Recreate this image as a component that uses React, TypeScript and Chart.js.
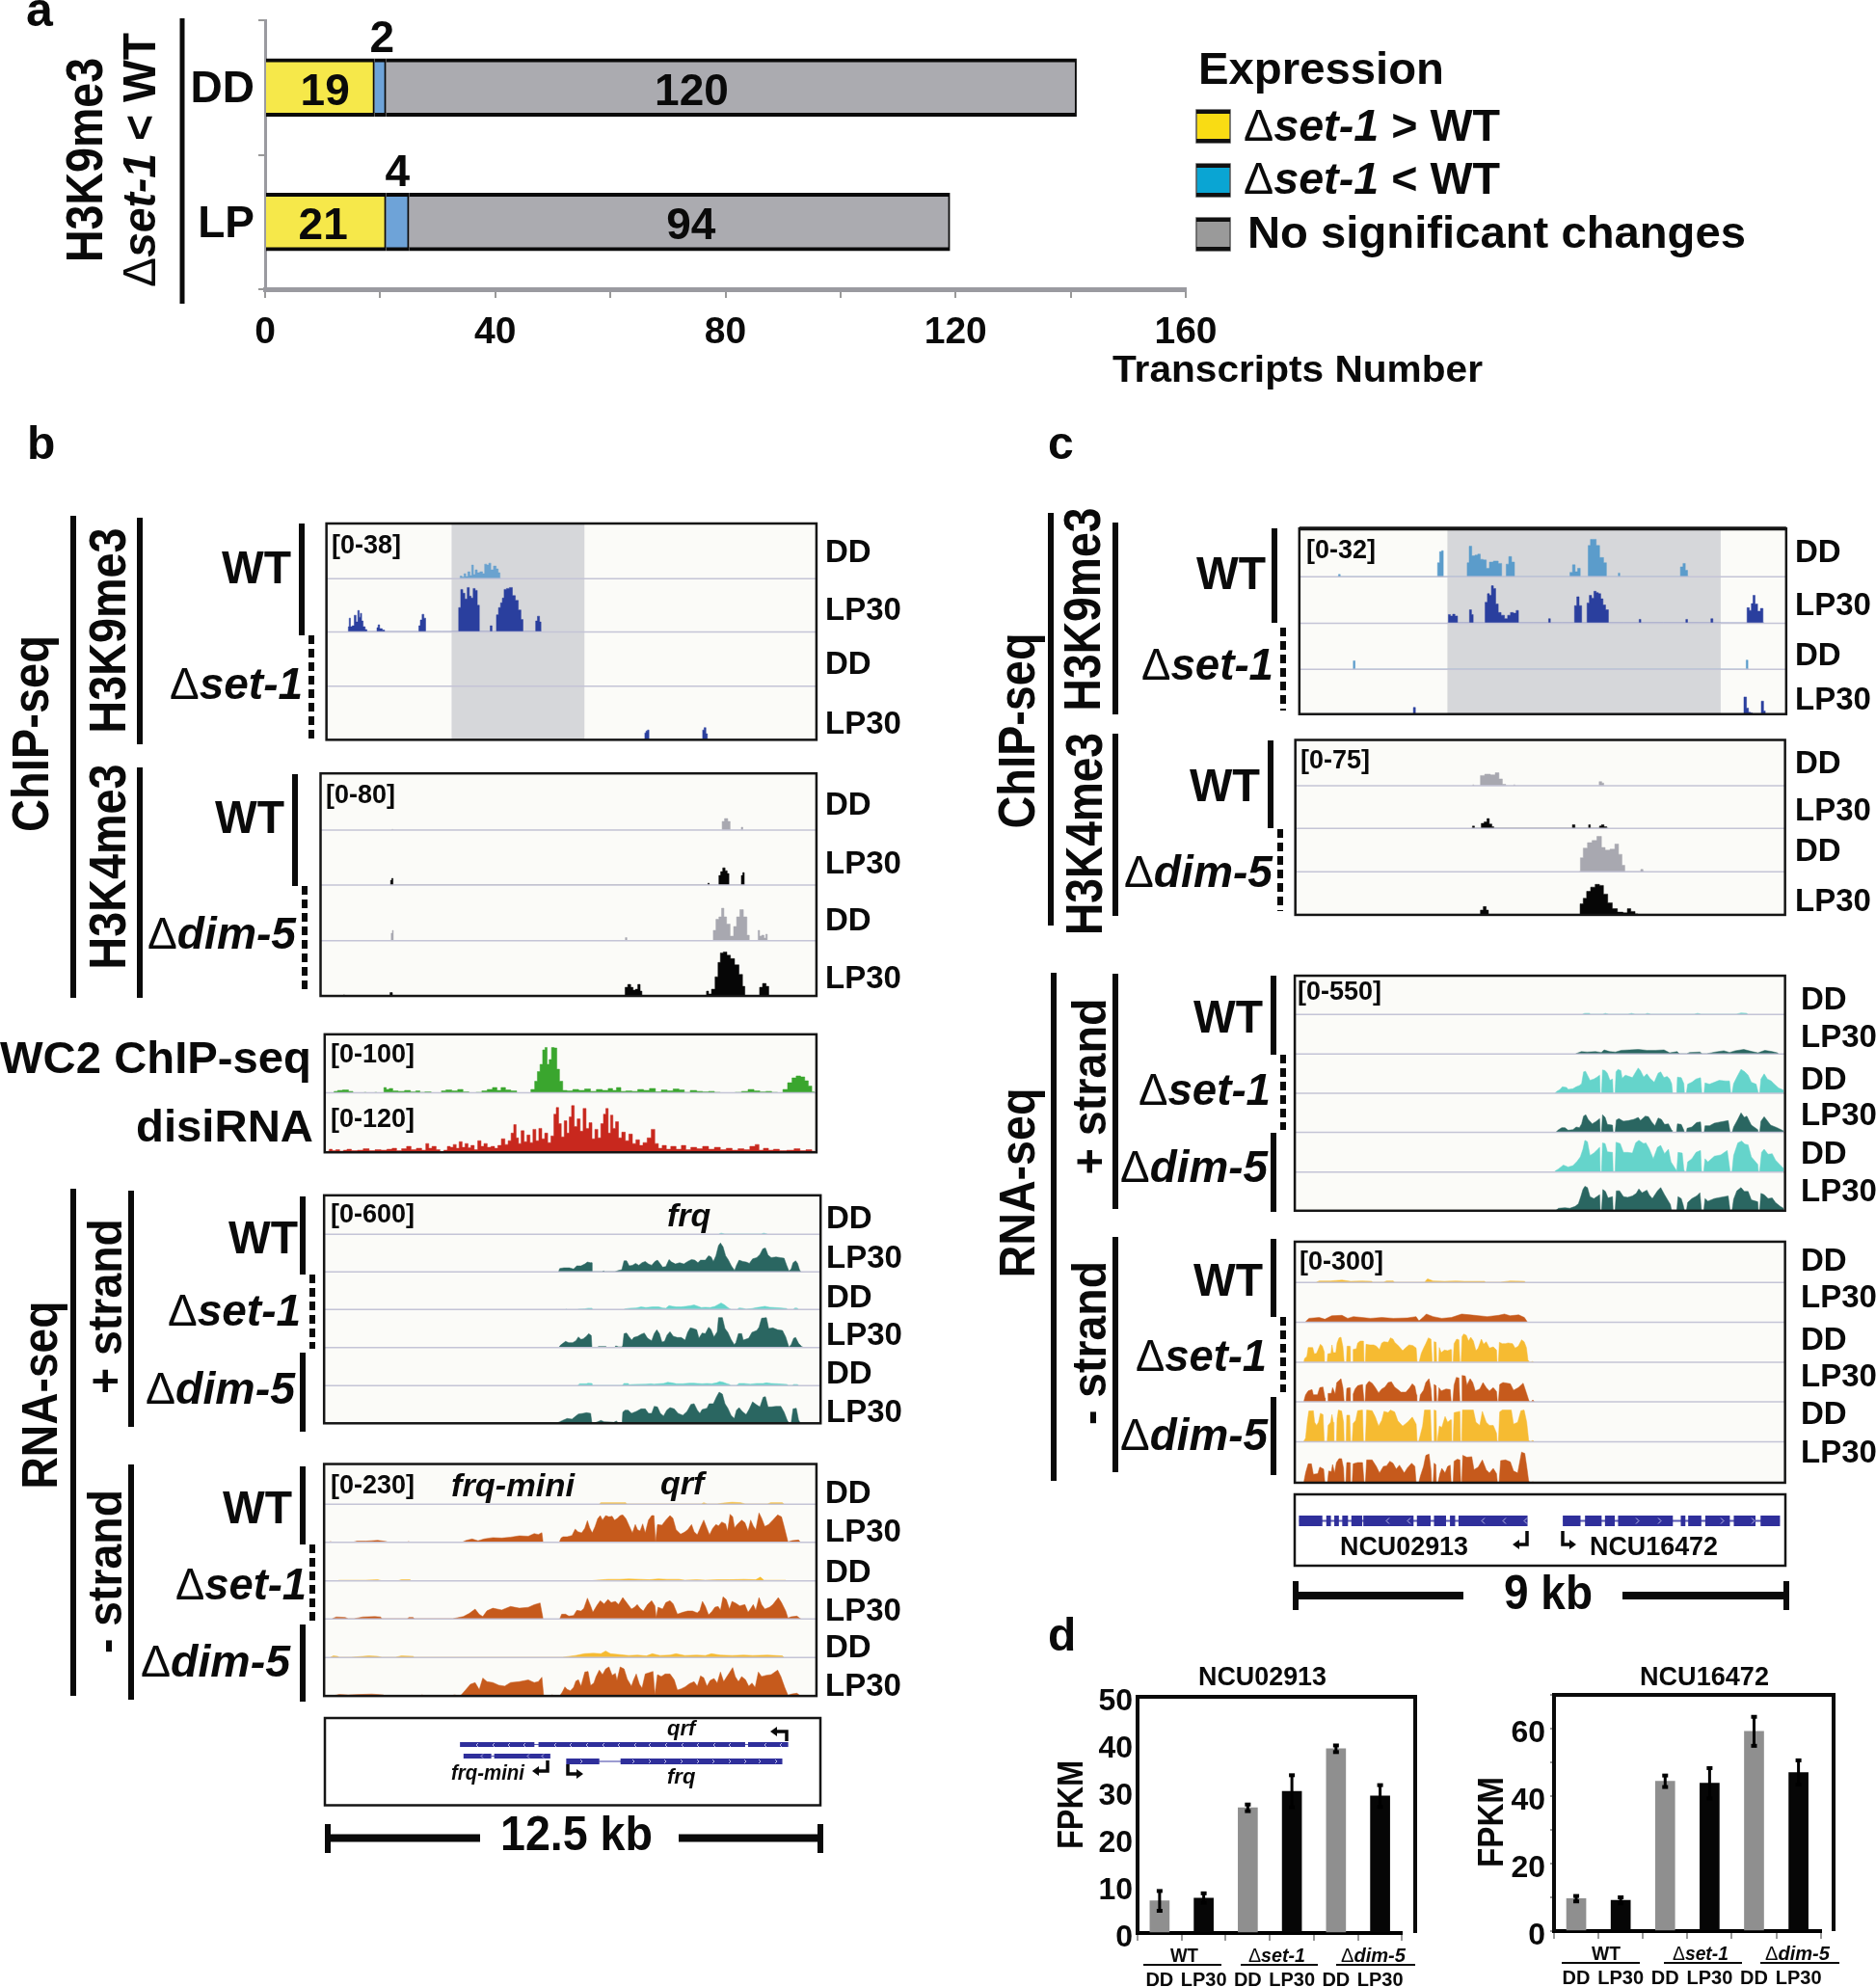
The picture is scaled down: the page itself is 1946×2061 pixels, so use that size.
import React, { useEffect, useRef } from 'react';
import { Chart, registerables } from 'chart.js';

Chart.register(...registerables);

const FONT = '"Liberation Sans", Arial, sans-serif';

// ---------- panel a values ----------
const aCategories = ['DD', 'LP'];
const aHigher = [19, 21];
const aLower = [2, 4];
const aUnchanged = [120, 94];

// ---------- panel d values ----------
const dLabels = ['DD', 'LP30', 'DD', 'LP30', 'DD', 'LP30'];
const ncu02913Values = [6.8, 7.4, 26.5, 30, 39, 29];
const ncu02913Errors = [2.1, 1, 0.7, 3.4, 0.7, 2.3];
const ncu16472Values = [9.6, 9.1, 44.4, 43.8, 59.2, 47];
const ncu16472Errors = [0.8, 0.9, 1.7, 4.5, 4.3, 3.6];

// ---------- coverage profiles, position / height pairs ----------
const bK9WtDd = [778,0,780,5,784,3,787,10,790,4,794,14,797,6,800,28,803,8,806,18,810,12,815,14,819,10,822,30,826,28,829,32,833,18,838,26,842,20,845,12,848,0];
const bK9WtLp = [589,0,590,10,592,28,594,10,598,12,601,34,604,20,607,44,609,30,611,38,613,22,616,10,620,4,622,0,637,0,639,8,641,14,644,6,650,3,652,0,708,0,710,12,713,24,716,36,719,28,722,0,775,0,778,50,782,88,785,80,789,68,793,92,796,74,799,70,803,90,806,86,810,55,813,0,829,0,831,12,835,0,839,0,842,35,846,50,849,60,852,70,855,88,860,90,865,92,870,75,875,65,880,45,884,25,887,0,906,0,908,22,912,32,915,20,917,0];
const bK9SetDd = [553,0,1383,0];
const bK9SetLp = [1091,0,1093,14,1095,18,1098,20,1100,0,1189,0,1191,20,1194,25,1197,12,1199,0];

const bK4WtDd = [663,0,664,2,665,0,1222,0,1224,18,1230,24,1235,18,1238,0,1254,0,1257,6,1259,0];
const bK4WtLp = [660,0,662,10,664,14,666,0,1198,0,1200,4,1202,0,1216,0,1219,20,1222,28,1226,36,1230,30,1233,24,1236,0,1254,0,1257,20,1259,26,1262,0];
const bK4DimDd = [661,0,663,16,665,22,666,0,1058,0,1060,7,1063,0,1206,0,1210,22,1215,45,1220,50,1224,68,1228,50,1233,35,1240,10,1245,30,1250,50,1256,65,1262,50,1268,12,1270,0,1283,0,1285,22,1288,10,1292,12,1296,6,1298,14,1301,0];
const bK4DimLp = [580,0,582,2,584,0,658,0,662,7,666,0,1057,0,1060,18,1066,24,1070,18,1074,12,1078,14,1082,24,1086,10,1088,0,1195,0,1198,10,1202,4,1208,14,1214,40,1218,70,1222,90,1228,92,1234,85,1240,78,1248,65,1255,45,1260,20,1263,0,1285,0,1288,18,1295,26,1300,20,1304,0];

const bWc2 = [563,0,568,4,575,6,585,7,595,4,600,0,615,0,618,2,622,0,633,0,636,2,640,0,648,0,652,12,656,8,662,10,668,5,680,4,690,6,700,3,708,5,714,2,725,3,735,0,745,0,750,5,760,7,770,5,780,8,788,3,800,0,812,2,820,5,830,8,838,12,845,6,852,12,860,7,870,5,880,0,895,0,903,8,908,25,912,45,917,60,921,90,925,95,928,60,932,70,936,95,941,94,945,50,950,25,956,6,965,5,975,8,985,6,995,9,1005,4,1015,8,1025,6,1035,10,1040,6,1048,12,1055,4,1065,5,1075,4,1085,8,1095,6,1105,10,1115,3,1125,7,1135,5,1145,9,1155,7,1163,2,1175,6,1185,4,1195,3,1205,4,1215,2,1225,1,1240,1,1250,2,1262,4,1272,8,1282,5,1292,3,1302,4,1312,2,1322,0,1330,8,1338,22,1345,32,1352,36,1360,34,1366,26,1372,15,1378,3,1380,0];
const bDisi = [555,2,560,6,565,3,572,5,578,2,585,4,590,6,600,3,610,4,620,7,630,3,640,5,650,4,660,6,668,8,675,3,685,7,692,12,700,5,710,8,718,4,724,18,728,8,735,12,742,5,748,0,755,4,760,12,765,10,770,16,775,8,780,22,785,10,790,18,795,9,800,14,806,5,812,24,817,12,822,18,828,10,835,12,840,8,846,14,852,28,858,16,863,24,868,40,872,58,876,30,880,18,885,45,890,22,895,36,900,20,905,48,910,24,915,50,920,28,925,40,930,20,936,34,940,80,944,94,948,60,953,32,958,66,962,40,966,74,970,98,975,54,980,70,985,44,990,92,995,50,1000,62,1005,28,1010,48,1015,30,1020,60,1024,80,1028,92,1032,40,1036,78,1040,50,1045,64,1050,30,1056,42,1062,24,1068,38,1074,18,1080,26,1086,14,1092,20,1100,30,1106,48,1112,18,1118,8,1125,14,1132,6,1140,12,1150,6,1158,14,1165,5,1175,10,1185,7,1195,12,1205,6,1215,10,1225,5,1235,8,1245,4,1255,7,1265,5,1275,12,1283,16,1288,4,1298,8,1305,4,1315,6,1325,3,1340,4,1350,7,1360,3,1370,5,1380,2];

const bPlusWtDd = [1218,0,1222,2,1228,0,1290,0,1294,2,1300,0];
const bPlusWtLp = [28,0,32,10,45,12,62,12,75,8,85,18,98,18,110,24,118,30,128,28,132,28,132,0,165,0,168,3,172,0,204,0,215,4,225,6,232,34,240,34,248,18,258,20,268,26,278,20,288,28,298,32,308,24,318,20,328,32,336,36,345,24,352,14,362,16,372,38,380,30,392,24,405,28,418,24,430,32,442,38,452,36,462,28,470,36,485,36,495,50,503,46,510,32,518,50,526,82,532,90,540,78,548,50,556,38,566,18,576,4,582,20,590,36,602,32,612,30,622,26,632,40,645,44,655,54,664,72,672,74,680,52,690,44,705,46,718,44,730,42,738,20,745,2,752,8,758,28,766,34,772,26,778,6,782,0];
const bPlusSetDd = [48,0,52,4,56,0,85,0,90,3,110,4,120,6,132,6,132,0,228,0,235,4,250,6,270,7,285,10,300,8,320,10,340,10,352,7,362,6,372,14,382,12,395,10,410,10,425,12,440,14,450,16,462,12,472,8,485,9,500,8,515,12,526,18,534,22,545,16,555,8,565,2,575,0,582,0,590,7,600,6,612,3,630,5,645,8,660,10,670,12,685,9,700,8,720,7,738,5,742,0,756,0,764,7,772,6,775,0];
const bPlusSetLp = [28,0,34,8,42,14,50,20,60,16,72,16,82,22,90,34,98,26,105,28,115,36,122,44,130,38,132,0,150,0,152,4,176,4,178,0,203,0,206,6,215,3,226,3,228,8,232,44,240,46,248,34,256,24,262,32,275,36,285,42,295,46,305,30,318,22,326,44,334,56,342,44,350,18,358,20,366,40,375,50,385,36,398,32,410,32,422,24,430,48,438,62,448,60,458,56,465,30,475,46,485,44,495,64,502,58,512,34,522,50,526,94,538,94,546,60,555,48,565,26,575,10,580,16,588,44,598,44,603,24,620,30,630,48,645,54,652,64,660,92,675,94,682,60,695,62,710,56,725,54,735,34,745,2,752,10,760,30,766,32,775,14,785,4,793,0];
const bPlusDimDd = [88,0,94,5,115,5,120,7,132,6,132,0,226,0,232,6,245,6,248,2,260,3,300,4,315,5,325,4,340,5,355,6,368,10,380,8,395,5,415,5,435,7,450,7,460,6,475,5,490,6,505,5,520,8,530,12,540,10,550,6,560,3,564,0,582,0,590,6,605,6,625,4,645,6,665,6,675,8,690,6,710,5,740,3,742,0,756,0,760,3,772,3,775,0];
const bPlusDimLp = [24,0,32,4,45,10,55,14,70,12,80,20,90,28,105,30,115,32,128,30,132,0,140,0,150,4,160,8,170,4,190,3,200,2,208,6,215,0,226,0,228,34,235,40,245,40,255,30,270,36,285,44,298,44,308,30,318,30,326,52,336,50,345,30,355,22,365,40,375,48,388,44,400,30,415,24,428,36,440,58,450,60,460,40,468,30,475,42,490,46,497,60,510,60,520,82,528,96,538,90,546,60,555,46,565,24,575,14,582,40,590,48,600,36,612,26,622,44,632,66,645,56,655,50,665,80,672,82,680,50,690,50,705,52,720,52,730,34,740,8,745,0,752,0,758,44,768,46,775,10,780,0];

const bMinusWtDd = [1015,0,1018,3,1060,3,1062,0,1188,0,1192,3,1198,0,1215,0,1225,2,1240,4,1255,3,1262,0,1300,0,1305,3,1325,3,1328,0];
const bMinusWtLpLeft = [556,0,560,2,566,0,596,0,605,3,620,3,630,4,640,5,655,2,658,0,688,0,692,2,698,0,782,0,790,5,800,8,810,4,820,8,835,11,850,10,865,12,880,15,895,14,905,20,912,18,918,22,920,0];
const bMinusWtLpRight = [60,0,66,14,72,18,85,18,100,22,110,42,118,34,130,30,140,44,148,68,155,46,163,30,172,50,180,74,188,84,195,70,205,84,215,80,225,82,232,70,240,74,250,84,258,86,268,74,278,52,288,30,297,56,304,40,312,36,320,58,328,30,338,70,348,84,355,84,360,2,366,56,380,54,392,70,405,84,414,76,424,40,438,26,450,32,460,40,472,56,480,34,490,24,500,48,510,70,520,44,528,24,538,44,548,56,556,52,566,64,578,58,584,36,592,88,600,80,606,46,614,56,628,70,638,62,648,36,656,70,664,52,672,40,682,92,690,76,700,50,712,56,725,70,740,86,752,80,760,50,772,2,785,6,805,8,812,0];
const bMinusSetDd = [570,0,575,2,600,2,620,2,640,3,650,0,672,0,680,3,695,3,697,0,995,0,1010,2,1030,4,1050,4,1065,5,1085,4,1100,3,1115,5,1130,4,1150,4,1160,2,1180,3,1195,2,1215,3,1235,3,1260,4,1280,3,1288,9,1294,2,1330,2,1332,0];
const bMinusSetLpLeft = [563,0,570,4,585,3,590,0,600,0,615,4,635,5,645,4,647,0,690,0,693,3,700,3,702,0,767,0,785,5,795,12,805,22,812,10,818,5,825,18,835,24,850,20,865,28,880,24,895,26,905,32,915,36,920,0];
const bMinusSetLpRight = [62,0,68,14,80,14,90,8,105,10,115,26,128,24,137,32,148,64,158,40,165,20,178,42,188,56,200,46,212,60,222,50,235,54,245,44,258,66,270,50,285,30,295,36,303,44,312,32,322,24,335,44,348,56,358,40,362,4,368,36,382,30,392,50,405,56,415,46,428,14,445,20,460,24,475,24,490,18,498,26,506,54,515,38,525,12,535,22,545,36,555,38,562,26,570,68,580,60,590,30,598,54,610,48,622,40,638,44,648,20,655,30,664,44,672,26,682,66,690,44,700,30,715,36,725,44,742,66,752,50,765,24,772,2,782,6,800,8,808,2,812,0];
const bMinusDimDd = [560,0,565,3,572,2,575,0,595,0,615,2,625,3,640,2,647,0,670,0,680,3,700,2,702,0,953,0,975,4,990,8,1005,9,1018,8,1026,14,1034,8,1050,6,1065,4,1080,5,1095,3,1105,8,1118,4,1135,5,1145,8,1160,4,1180,5,1195,4,1205,8,1220,5,1240,4,1260,5,1275,4,1300,5,1325,3,1328,0];
const bMinusDimLpLeft = [563,0,575,3,590,2,610,3,630,4,650,2,652,0,712,0,715,2,720,0,764,0,770,2,778,0,780,0,788,12,797,26,805,30,812,14,818,40,825,32,835,30,845,24,855,22,865,30,880,32,895,36,905,30,912,32,918,42,921,0,932,0,935,2,940,0];
const bMinusDimLpRight = [62,0,70,12,78,28,85,20,95,16,105,26,112,46,120,50,128,30,140,74,150,76,158,32,168,40,175,60,185,80,195,66,205,84,215,90,225,64,235,70,240,48,250,90,262,84,272,52,285,30,292,50,300,68,310,36,318,24,328,68,340,72,352,76,358,4,366,66,378,60,390,68,405,68,418,50,428,18,440,22,452,28,466,38,480,44,490,30,500,62,510,56,520,30,530,48,542,54,552,40,562,74,572,44,582,60,590,72,600,88,608,60,618,44,628,60,640,50,650,30,660,40,670,26,680,74,690,60,705,64,720,66,740,80,750,60,762,26,772,2,785,6,800,8,808,2,812,0];

const cK9WtDd = [622,0,625,6,628,0,796,0,799,40,803,72,806,75,809,0,848,0,851,40,855,88,860,60,866,62,870,65,875,50,880,48,886,24,891,42,900,45,908,38,912,0,916,0,920,36,925,58,930,42,935,0,1028,0,1032,12,1037,34,1041,14,1046,24,1050,0,1060,0,1064,90,1068,108,1074,108,1078,90,1086,55,1092,40,1096,0,1114,0,1116,10,1119,0,1222,0,1226,28,1231,38,1234,18,1239,0];
const cK9WtLp = [815,0,818,24,822,20,826,25,830,20,835,0,852,0,855,38,859,24,861,0,879,0,883,60,887,85,890,80,894,108,897,100,902,55,906,30,912,22,918,12,923,22,928,30,933,28,938,36,941,0,991,0,994,12,997,0,1036,0,1040,50,1044,76,1048,50,1053,0,1058,0,1062,58,1066,80,1070,72,1074,92,1078,88,1082,85,1086,70,1090,52,1095,38,1100,0,1150,0,1153,10,1156,0,1232,0,1235,10,1238,0,1276,0,1279,12,1283,0,1339,0,1343,44,1347,36,1350,56,1353,80,1357,55,1362,34,1367,42,1371,0];
const cK9SetDd = [648,0,651,24,654,0,1338,0,1341,26,1344,0];
const cK9SetLp = [753,0,757,20,760,0,1333,0,1338,50,1342,18,1345,6,1349,4,1352,0,1364,0,1368,38,1372,10,1374,0];

const cK4WtDd = [858,0,860,3,862,0,870,0,875,30,885,34,895,32,902,38,908,20,914,4,920,0,930,0,932,3,934,0,1079,0,1083,12,1088,8,1090,0];
const cK4WtLp = [857,0,860,6,864,0,872,0,876,14,882,18,886,28,890,12,895,4,897,0,1032,0,1036,10,1041,0,1061,0,1064,10,1067,0,1080,0,1083,6,1087,10,1092,4,1097,0];
const cK4DimDd = [1046,0,1050,40,1056,68,1065,84,1072,90,1082,102,1088,70,1095,62,1105,65,1112,80,1118,50,1124,18,1128,0,1152,0,1156,6,1160,0];
const cK4DimLp = [870,0,875,14,880,24,885,14,888,0,1045,0,1050,32,1056,48,1062,68,1070,80,1078,88,1085,85,1092,60,1100,35,1108,18,1118,8,1128,6,1133,18,1140,10,1148,3,1150,0];

const cPlusWtDd = [1052,0,1056,2,1064,2,1066,0,1088,0,1092,2,1098,0,1132,0,1138,2,1144,0,1162,0,1166,2,1172,0,1248,0,1254,2,1260,0,1322,0,1330,3,1340,2,1342,0];
const cPlusWtLp = [1040,0,1050,5,1060,4,1075,5,1085,3,1090,9,1100,5,1110,4,1120,8,1135,9,1150,10,1165,8,1180,8,1195,9,1205,2,1218,5,1222,0,1235,0,1240,3,1258,4,1262,0,1270,0,1285,4,1300,7,1310,3,1320,7,1335,10,1350,5,1360,2,1372,8,1385,5,1394,2,1396,0];
const cPlusSetDd = [8,0,15,6,25,12,32,20,45,18,50,12,65,14,75,20,85,24,92,30,98,66,104,68,110,56,118,40,130,44,140,50,148,56,150,0,154,0,157,72,165,70,172,62,180,40,188,44,190,0,196,0,199,66,205,74,214,70,218,46,228,56,240,52,250,48,258,62,268,78,275,70,285,50,295,60,305,46,318,34,330,62,338,66,348,48,358,52,366,44,372,30,375,0,388,0,390,50,402,48,410,30,412,0,418,0,422,28,435,34,448,44,462,48,466,0,473,0,476,32,490,28,505,34,520,40,540,38,552,38,556,0,560,0,565,30,575,50,588,74,600,66,610,56,620,34,635,28,642,0,646,0,650,44,660,60,670,44,682,38,690,30,705,16,720,10];
const cPlusSetLp = [10,0,18,8,30,16,40,16,50,8,65,10,75,18,85,16,92,28,98,52,105,56,112,42,125,28,138,36,148,44,150,0,154,0,157,56,165,48,172,26,188,24,190,0,196,0,200,40,208,44,222,36,238,38,255,42,268,48,275,38,290,52,300,50,310,34,320,22,330,46,340,42,350,26,362,28,372,8,374,0,387,0,390,28,402,26,410,8,412,0,418,0,420,14,435,18,450,32,462,34,465,0,473,0,476,22,490,22,505,30,525,34,548,38,554,0,560,0,565,18,578,42,588,62,598,48,606,52,620,24,640,10,642,0,646,0,650,36,660,50,668,40,680,24,700,16,720,6];
const cPlusDimDd = [8,0,20,8,35,20,50,14,65,18,78,32,88,46,96,70,102,98,110,94,118,50,130,58,140,68,148,76,150,0,154,0,157,90,165,88,172,62,188,60,190,0,196,0,199,92,212,88,222,60,235,60,250,58,260,90,270,98,285,88,292,90,302,72,315,40,328,76,338,82,350,56,362,70,370,30,385,6,388,0,389,0,392,60,405,58,410,6,412,0,418,0,422,30,435,40,448,60,462,66,465,0,472,0,476,40,485,30,505,48,525,52,545,66,554,0,560,0,565,50,578,90,590,96,600,86,610,84,620,46,640,22,642,0,646,0,652,60,660,70,672,54,685,56,695,36,710,20,720,10];
const cPlusDimLp = [10,0,20,8,40,10,55,8,72,14,82,22,90,46,96,66,102,76,110,72,118,44,130,38,148,50,150,0,154,0,158,66,166,60,174,40,188,44,190,0,196,0,200,62,210,62,222,44,235,42,250,46,262,54,270,68,280,56,295,64,302,50,312,38,328,62,338,72,350,50,362,30,368,20,372,0,388,0,392,44,402,38,408,18,412,0,418,0,422,26,435,38,450,46,460,56,465,0,472,0,476,38,485,30,505,38,525,42,548,46,554,0,560,0,565,36,575,62,588,72,598,60,610,60,620,34,640,28,642,0,646,0,650,54,660,50,672,38,685,40,695,26,710,14,720,8];

const cMinusWtDd = [585,0,590,3,610,3,630,5,645,2,665,3,682,2,684,0,703,0,708,3,720,3,722,0,775,0,780,8,790,3,810,2,830,3,845,2,880,2,882,0,908,0,925,3,950,2,952,0];
const cMinusWtLp = [566,0,572,8,590,10,600,6,612,14,630,15,640,8,650,12,665,10,680,8,700,10,720,8,745,9,760,12,765,2,772,10,778,18,790,12,805,8,822,10,840,18,855,16,870,14,885,12,905,15,915,18,925,14,940,16,950,10,955,0];
const cMinusSetDd = [22,0,25,12,32,18,36,46,50,46,55,26,62,28,68,42,74,56,80,50,86,32,87,0,95,0,97,26,107,28,110,54,114,30,122,30,126,60,132,76,138,78,144,48,148,0,155,0,157,50,165,50,167,0,174,0,176,40,186,42,190,60,198,66,208,66,210,0,214,0,216,56,228,54,240,54,248,50,258,40,265,60,272,64,285,62,292,76,300,72,305,62,318,50,330,36,340,46,350,54,362,52,372,44,375,0,381,0,388,28,396,46,402,58,410,76,418,72,422,0,426,0,428,64,434,62,436,0,442,0,444,46,450,30,460,38,470,36,480,40,482,0,487,0,490,58,498,72,505,70,508,0,512,0,515,80,520,88,528,84,535,66,542,78,550,66,558,36,565,44,575,72,582,56,590,64,600,44,612,48,622,38,624,0,628,0,631,62,640,58,650,58,658,60,672,58,680,44,690,50,700,70,708,64,715,46,720,6,722,0,730,0,733,3,738,0];
const cMinusSetLp = [22,0,28,22,36,34,48,38,52,22,65,22,72,44,82,46,88,12,89,0,96,0,98,26,108,26,112,44,120,24,125,60,132,66,138,72,144,44,148,0,154,0,156,42,165,44,167,0,174,0,176,24,182,40,190,50,205,54,210,0,213,0,216,52,225,64,235,58,245,44,255,28,265,40,275,46,285,60,295,62,305,46,315,38,325,30,340,30,352,44,360,56,368,48,373,22,374,0,382,0,385,22,395,36,402,60,412,72,418,40,421,0,426,0,428,54,434,50,436,0,440,0,443,44,450,34,465,40,478,38,481,0,486,0,490,52,497,76,505,74,508,0,513,0,515,82,525,80,530,52,540,72,548,60,556,34,570,40,580,60,590,44,600,34,612,44,622,32,625,0,628,0,632,54,642,60,655,58,665,56,675,36,690,44,705,58,715,28,722,6,725,0,730,0,735,6,740,0];
const cMinusDimDd = [22,0,28,10,33,60,38,95,52,96,56,60,62,50,68,60,74,88,82,84,86,0,95,0,98,50,106,60,110,84,114,60,116,0,124,0,126,70,130,98,140,95,146,60,148,0,154,0,156,82,165,82,168,0,173,0,176,56,184,66,190,96,205,98,208,0,214,0,218,98,235,96,245,76,255,48,265,66,272,94,285,90,292,98,305,92,315,64,330,48,345,60,360,76,372,54,375,0,380,0,385,20,392,48,398,98,416,98,420,0,426,0,428,98,434,96,436,0,438,0,444,48,452,44,462,78,470,60,480,68,482,0,487,0,490,90,508,94,510,0,514,0,516,98,550,98,558,60,570,50,578,94,590,60,600,50,612,50,622,26,624,0,628,0,632,92,640,98,668,98,675,54,688,60,698,96,708,98,716,60,722,4,725,0,730,0,735,3,738,0];
const cMinusDimLp = [22,0,28,30,36,58,46,58,52,26,66,28,72,48,84,42,88,0,96,0,100,36,108,34,112,56,118,30,124,62,132,74,140,74,146,44,148,0,153,0,156,62,165,62,167,0,173,0,176,58,190,62,205,62,210,0,214,0,218,70,235,70,248,50,258,30,270,50,280,52,290,66,300,60,310,42,320,54,335,30,345,46,358,60,368,50,372,0,380,0,385,20,395,50,402,84,412,88,418,40,420,0,425,0,428,60,433,56,435,0,440,0,446,28,452,44,462,30,470,50,478,54,481,0,487,0,490,66,500,72,508,70,511,0,514,0,517,84,530,78,545,80,552,40,565,48,578,70,590,40,600,30,612,44,622,28,625,0,630,0,635,68,650,70,665,64,675,36,688,30,700,94,710,90,716,50,722,6,726,0,730,0,735,3,740,0];

// ---------- gene models, start / end pairs ----------
const qrfExons = [[780,905],[913,1262],[1268,1335]];
const frqMiniExons = [[786,832],[838,932]];
const frqExons = [[960,1015],[1052,1325]];
const ncu02913Exons = [[555,595],[603,610],[617,624],[631,640],[647,665],[668,755],[762,785],[792,812],[820,828],[835,955]];
const ncu16472Exons = [[1018,1048],[1057,1085],[1092,1108],[1115,1210],[1225,1232],[1238,1260],[1268,1310],[1318,1355],[1365,1398]];
const qrfMarks = [494,511,527,543,575,591,608,625,641,658,673,690,707,723,740,756,793,809];
const frqMiniMarks = [499,547,562];
const frqMarks = [604,658,675,691,708,725,741,758,774,789,806];
const ncu02913Marks = [1438,1460,1537,1559,1581];
const ncu16472Marks = [1700,1723,1788,1820];

// ---------- styles ----------
const C = {
  lblue: '#6aa2cf', dblue: '#2a3f9e', gray: '#a8a8b0', black: '#060606',
  green: '#3aa62e', red: '#c8281e', tealD: '#2a6661', tealL: '#65d4cb',
  yellow: '#f6bb32', orange: '#c65a1c', gene: '#2f2f9b',
};

const panels: any[] = [
  { step: true, ox: 0, kx: 1.633, oy: 440, ky: 2.01, x0: 553, x1: 1383, top: 207, bases: [322,433,546,658], band: [765,990], tracks: [[bK9WtDd,C.lblue],[bK9WtLp,C.dblue],[bK9SetDd,C.lblue],[bK9SetLp,C.dblue]] },
  { step: true, ox: 0, kx: 1.633, oy: 440, ky: 2.01, x0: 543, x1: 1383, top: 728, bases: [846,961,1077,1192], tracks: [[bK4WtDd,C.gray],[bK4WtLp,C.black],[bK4DimDd,C.gray],[bK4DimLp,C.black]] },
  { step: true, ox: 0, kx: 1.633, oy: 440, ky: 2.01, x0: 550, x1: 1383, top: 1272, bases: [1394,1518], tracks: [[bWc2,C.green],[bDisi,C.red]] },
  { ox: 0, kx: 1.633, oy: 1210, ky: 2.178, x0: 549, x1: 1390, top: 65, bases: [153,238,323,409,495,580], tracks: [[bPlusWtDd,C.tealL]] },
  { ox: 0, kx: 1.633, oy: 1210, ky: 2.178, x0: 549, x1: 1383, top: 672, bases: [763,849,936,1022,1109,1196], tracks: [[bMinusWtDd,C.yellow],[bMinusWtLpLeft,C.orange],[bMinusSetDd,C.yellow],[bMinusSetLpLeft,C.orange],[bMinusDimDd,C.yellow],[bMinusDimLpLeft,C.orange]] },
  { step: true, ox: 1020, kx: 1.693, oy: 440, ky: 2.8, x0: 555, x1: 1410, top: 303, bases: [443,578,712,842], band: [815,1295], thickTop: true, tracks: [[cK9WtDd,'#5b9ccb'],[cK9WtLp,C.dblue],[cK9SetDd,'#5b9ccb'],[cK9SetLp,C.dblue]] },
  { step: true, ox: 1020, kx: 1.693, oy: 440, ky: 2.8, x0: 548, x1: 1408, top: 917, bases: [1050,1174,1300,1425], tracks: [[cK4WtDd,C.gray],[cK4WtLp,C.black],[cK4DimDd,C.gray],[cK4DimLp,C.black]] },
  { ox: 1020, kx: 1.693, oy: 1000, ky: 2.24, x0: 547, x1: 1408, top: 27, bases: [117,209,300,391,483,573], tracks: [[cPlusWtDd,C.tealL],[cPlusWtLp,C.tealD]] },
  { ox: 1020, kx: 1.693, oy: 1000, ky: 2.24, x0: 547, x1: 1408, top: 645, bases: [740,832,925,1017,1110,1205], tracks: [[cMinusWtDd,C.yellow],[cMinusWtLp,C.orange]] },
  // rows read on a finer position grid
  { bare: true, ox: 1610, kx: 3, oy: 1090, ky: 3, x0: -801, x1: 726, top: 9, bases: [131,254,376,498], tracks: [[cPlusSetDd,C.tealL],[cPlusSetLp,C.tealD],[cPlusDimDd,C.tealL],[cPlusDimLp,C.tealD]] },
  { bare: true, ox: 1345, kx: 3, oy: 1370, ky: 3, x0: -6, x1: 1521, top: 3, bases: [129,252,376,503], tracks: [[cMinusSetDd,C.yellow],[cMinusSetLp,C.orange],[cMinusDimDd,C.yellow],[cMinusDimLp,C.orange]] },
  { bare: true, ox: 570, kx: 3, oy: 1280, ky: 3, x0: -702, x1: 843, top: 0, bases: [118,236,353,471,588], tracks: [[bPlusWtLp,C.tealD],[bPlusSetDd,C.tealL],[bPlusSetLp,C.tealD],[bPlusDimDd,C.tealL],[bPlusDimLp,C.tealD]] },
  { bare: true, ox: 560, kx: 3, oy: 1530, ky: 3, x0: -672, x1: 861, top: 90, bases: [210], tracks: [[bMinusWtLpRight,C.orange]] },
  { bare: true, ox: 560, kx: 3, oy: 1530, ky: 3, x0: -672, x1: 861, top: 328, bases: [448], tracks: [[bMinusSetLpRight,C.orange]] },
  { bare: true, ox: 560, kx: 3, oy: 1530, ky: 3, x0: -672, x1: 861, top: 568, bases: [688], tracks: [[bMinusDimLpRight,C.orange]] },
];

type Part = { t: string; i?: boolean; thin?: boolean };
const d = (rest: string, tail = ''): Part[] => [{ t: 'Δ', thin: true }, { t: rest, i: true }, ...(tail ? [{ t: tail }] : [])];

// x, baseline y, size, optional: width, rotation, italic
const texts: any[] = [
  ['a', 27, 27, 50], ['b', 28, 476, 48], ['c', 1087, 476, 48], ['d', 1087, 1712, 48],
  // panel a
  ['H3K9me3', 106, 166, 54, { len: 212, rot: true }],
  [d('set-1', ' < WT'), 161, 166, 48, { len: 264, rot: true }],
  ['Transcripts Number', 1154, 396, 39, { len: 384 }],
  ['Expression', 1243, 87, 46, { len: 255 }],
  [d('set-1', ' > WT'), 1290, 146, 46, { len: 266 }],
  [d('set-1', ' < WT'), 1290, 201, 46, { len: 266 }],
  ['No significant changes', 1294, 257, 46, { len: 517 }],
  // panel b, side labels
  ['ChIP-seq', 50, 761, 54, { len: 204, rot: true }],
  ['H3K9me3', 130, 654, 54, { len: 213, rot: true }],
  ['H3K4me3', 130, 899, 54, { len: 213, rot: true }],
  ['WT', 230, 605, 48, { len: 72 }],
  [d('set-1'), 176, 725, 46, { len: 138 }],
  ['WT', 223, 864, 48, { len: 72 }],
  [d('dim-5'), 153, 984, 46, { len: 154 }],
  ['WC2 ChIP-seq', 0, 1113, 46, { len: 323 }],
  ['disiRNA', 141, 1184, 46, { len: 184 }],
  ['RNA-seq', 59, 1447, 52, { len: 195, rot: true }],
  ['+ strand', 126, 1355, 50, { len: 182, rot: true }],
  ['- strand', 126, 1630, 50, { len: 170, rot: true }],
  ['WT', 237, 1300, 48, { len: 72 }],
  [d('set-1'), 174, 1375, 46, { len: 138 }],
  [d('dim-5'), 151, 1456, 46, { len: 155 }],
  ['WT', 231, 1580, 48, { len: 72 }],
  [d('set-1'), 182, 1659, 46, { len: 136 }],
  [d('dim-5'), 146, 1739, 46, { len: 155 }],
  // panel b, ranges and gene names
  ['[0-38]', 344, 574, 27], ['[0-80]', 338, 833, 27], ['[0-100]', 343, 1102, 27], ['[0-120]', 343, 1169, 27],
  ['[0-600]', 343, 1268, 27], ['[0-230]', 343, 1549, 27],
  ['frq', 692, 1272, 34, { it: true }], ['frq-mini', 468, 1552, 34, { it: true, len: 128 }], ['qrf', 685, 1550, 34, { it: true }],
  ['qrf', 692, 1800, 22, { it: true }], ['frq-mini', 468, 1846, 22, { it: true, len: 76 }], ['frq', 692, 1850, 22, { it: true }],
  ['12.5 kb', 519, 1919, 50, { len: 158 }],
  // panel c, side labels
  ['ChIP-seq', 1073, 758, 54, { len: 203, rot: true }],
  ['H3K9me3', 1141, 632, 54, { len: 211, rot: true }],
  ['H3K4me3', 1143, 865, 54, { len: 210, rot: true }],
  ['WT', 1241, 611, 48, { len: 72 }],
  [d('set-1'), 1184, 705, 46, { len: 137 }],
  ['WT', 1234, 831, 48, { len: 73 }],
  [d('dim-5'), 1166, 920, 46, { len: 154 }],
  ['RNA-seq', 1073, 1227, 52, { len: 197, rot: true }],
  ['+ strand', 1147, 1127, 50, { len: 183, rot: true }],
  ['- strand', 1147, 1393, 50, { len: 170, rot: true }],
  ['WT', 1238, 1071, 48, { len: 72 }],
  [d('set-1'), 1181, 1146, 46, { len: 137 }],
  [d('dim-5'), 1162, 1226, 46, { len: 153 }],
  ['WT', 1238, 1344, 48, { len: 72 }],
  [d('set-1'), 1178, 1422, 46, { len: 136 }],
  [d('dim-5'), 1162, 1504, 46, { len: 153 }],
  ['[0-32]', 1355, 579, 27], ['[0-75]', 1349, 797, 27], ['[0-550]', 1346, 1037, 27], ['[0-300]', 1348, 1317, 27],
  ['NCU02913', 1390, 1613, 28, { len: 133 }], ['NCU16472', 1649, 1613, 28, { len: 133 }],
  ['9 kb', 1560, 1669, 50, { len: 92 }],
  // panel d
  ['NCU02913', 1243, 1748, 27, { len: 133 }], ['NCU16472', 1701, 1748, 27, { len: 134 }],
  ['FPKM', 1123, 1872, 36, { len: 92, rot: true }], ['FPKM', 1559, 1890, 36, { len: 94, rot: true }],
  ['WT', 1214, 2035, 20, { len: 29 }], [d('set-1'), 1295, 2035, 20, { len: 59 }], [d('dim-5'), 1391, 2035, 20, { len: 67 }],
  ['WT', 1651, 2033, 20, { len: 30 }], [d('set-1'), 1735, 2033, 20, { len: 58 }], [d('dim-5'), 1831, 2033, 20, { len: 67 }],
];

const sideRows: [number, number[]][] = [
  [856, [583,643,699,761]], [856, [845,906,965,1025]],
  [857, [1274,1315,1356,1395,1435,1475]], [856, [1559,1599,1641,1681,1719,1759]],
  [1862, [583,638,690,736]], [1862, [802,851,893,945]],
  [1868, [1047,1086,1130,1167,1207,1246]], [1868, [1318,1356,1400,1438,1477,1517]],
];

// x, y1, y2, width, dashed
const rules: any[] = [
  [189,19,315,5], [76,535,1035,6], [145,537,772,6], [145,796,1035,6], [313,543,659,6], [323,659,769,6,1], [306,803,919,6], [316,919,1030,6,1],
  [76,1233,1759,6], [136,1235,1480,6], [136,1519,1763,6], [314,1241,1322,6], [324,1322,1399,6,1], [314,1403,1485,6], [314,1521,1602,6], [324,1602,1681,6,1], [314,1685,1765,6],
  [1090,532,960,6], [1157,542,741,6], [1157,761,950,6], [1322,548,646,6], [1331,651,737,6,1], [1318,768,859,6], [1328,860,945,6,1],
  [1093,1009,1536,6], [1157,1010,1254,6], [1157,1283,1527,6], [1321,1012,1094,6], [1331,1094,1172,6,1], [1321,1175,1257,6], [1321,1285,1366,6], [1331,1366,1444,6,1], [1321,1449,1530,6],
];

function useChart(make: (c: HTMLCanvasElement) => Chart) {
  const ref = useRef<HTMLCanvasElement>(null);
  useEffect(() => {
    const ch = make(ref.current!);
    return () => ch.destroy();
  }, []);
  return ref;
}

const abs = (x: number, y: number, w: number, h: number): React.CSSProperties => ({ position: 'absolute', left: x, top: y, width: w, height: h, zIndex: 1 });

function Cv({ x, y, w, h, make }: any) {
  const ref = useChart(make);
  return <canvas ref={ref} width={w} height={h} style={abs(x, y, w, h)} />;
}

function Track({ p, i }: any) {
  const [vals, color] = p.tracks[i];
  const zTop = i === 0 ? p.top : p.bases[i - 1];
  const zBase = p.bases[i];
  const x = Math.round(p.ox + p.x0 / p.kx);
  const w = Math.round(p.ox + p.x1 / p.kx) - x;
  const y = Math.round(p.oy + zTop / p.ky);
  const h = Math.round(p.oy + zBase / p.ky) - y;
  const pts: { x: number; y: number }[] = [];
  for (let k = 0; k < vals.length; k += 2) pts.push({ x: vals[k], y: vals[k + 1] });
  return <Cv x={x} y={y} w={w} h={h} make={(c: HTMLCanvasElement) => new Chart(c, {
    type: 'line',
    data: { datasets: [{ data: pts, stepped: p.step ? 'middle' : false, fill: 'origin', backgroundColor: color, borderColor: color, borderWidth: 0.5, pointRadius: 0, tension: 0 }] },
    options: {
      animation: false, responsive: false,
      plugins: { legend: { display: false }, tooltip: { enabled: false } },
      scales: {
        x: { type: 'linear', min: p.x0, max: p.x1, display: false },
        y: { min: 0, max: zBase - zTop, display: false },
      },
    },
  })} />;
}

function Gene({ p, zy0, zy1, exons, intron }: any) {
  const x = Math.round(p.ox + p.x0 / p.kx);
  const w = Math.round(p.ox + p.x1 / p.kx) - x;
  const y = Math.round(p.oy + zy0 / p.ky);
  const h = Math.max(3, Math.round(p.oy + zy1 / p.ky) - y);
  const datasets: any[] = exons.map((e: number[]) => ({ data: [e], backgroundColor: C.gene, grouped: false, barPercentage: 1, categoryPercentage: 1 }));
  if (intron) datasets.push({ data: [intron], backgroundColor: '#5a5ab4', grouped: false, barPercentage: 0.2, categoryPercentage: 1 });
  return <Cv x={x} y={y} w={w} h={h} make={(c: HTMLCanvasElement) => new Chart(c, {
    type: 'bar',
    data: { labels: ['gene'], datasets },
    options: {
      indexAxis: 'y', animation: false, responsive: false,
      plugins: { legend: { display: false }, tooltip: { enabled: false } },
      scales: { x: { type: 'linear', min: p.x0, max: p.x1, display: false }, y: { display: false } },
    },
  })} />;
}

// the value labels of panel a sit slightly off the centres of their segments
const aLabelShift = [[5, -3], [2, 0], [-41, 12]];

const barLabelPlugin = {
  id: 'barLabels',
  afterDatasetsDraw(chart: any) {
    const g = chart.ctx;
    g.save();
    g.font = `bold 46px ${FONT}`;
    g.fillStyle = '#0a0a0a';
    g.textAlign = 'center';
    g.textBaseline = 'alphabetic';
    chart.data.datasets.forEach((ds: any, di: number) => {
      chart.getDatasetMeta(di).data.forEach((el: any, i: number) => {
        const p = el.getProps(['x', 'y', 'base', 'height']);
        const cx = (p.x + p.base) / 2 + aLabelShift[di][i];
        if (di === 1) g.fillText(String(ds.data[i]), cx, p.y - p.height / 2 - 7);
        else g.fillText(String(ds.data[i]), cx, p.y + 18);
      });
    });
    g.restore();
  },
};

function PanelA() {
  const L = 190, T = -15, W = 1090, H = 377;
  const pl = 275, pr = 1230, pt = 21, pb = 300;
  return <Cv x={L} y={T} w={W} h={H} make={(c: HTMLCanvasElement) => new Chart(c, {
    type: 'bar',
    data: {
      labels: aCategories,
      datasets: [
        { label: 'Δset-1 > WT', data: aHigher, backgroundColor: '#f6e84a' },
        { label: 'Δset-1 < WT', data: aLower, backgroundColor: '#6ea3d8' },
        { label: 'No significant changes', data: aUnchanged, backgroundColor: '#ababb0' },
      ].map((s) => ({ ...s, borderColor: '#0a0a0a', borderSkipped: false, borderWidth: { top: 4, bottom: 4, left: 0, right: 2 }, barThickness: 60 })),
    },
    options: {
      indexAxis: 'y', animation: false, responsive: false,
      layout: { autoPadding: false, padding: { top: pt - T, right: L + W - pr, left: 0, bottom: 0 } },
      plugins: { legend: { display: false }, tooltip: { enabled: false } },
      scales: {
        x: {
          type: 'linear', stacked: true, min: 0, max: 160,
          afterFit: (s: any) => { s.height = T + H - pb; },
          grid: { drawOnChartArea: false, color: '#999', tickLength: 9, lineWidth: 2 },
          border: { color: '#9a9aa0', width: 5 },
          ticks: { stepSize: 20, autoSkip: false, maxRotation: 0, padding: 13, color: '#0a0a0a', font: { family: FONT, weight: 'bold', size: 39 }, callback: (v: any) => (v % 40 === 0 ? v : '') },
        },
        y: {
          stacked: true,
          afterFit: (s: any) => { s.width = pl - L; },
          grid: { drawOnChartArea: false, color: '#999', tickLength: 7, lineWidth: 2 },
          border: { color: '#9a9aa0', width: 3 },
          ticks: { padding: 4, labelOffset: 3, color: '#0a0a0a', font: { family: FONT, weight: 'bold', size: 46 } },
        },
      },
    },
    plugins: [barLabelPlugin],
  })} />;
}

function errorPlugin(errs: number[]) {
  return {
    id: 'errs',
    afterDatasetsDraw(chart: any) {
      const g = chart.ctx;
      const sy = chart.scales.y;
      g.save();
      g.fillStyle = '#000';
      chart.getDatasetMeta(0).data.forEach((el: any, i: number) => {
        const v = chart.data.datasets[0].data[i];
        const a = sy.getPixelForValue(v + errs[i]);
        const b = sy.getPixelForValue(v - errs[i]);
        g.fillRect(el.x - 1.5, a, 3, b - a);
        g.fillRect(el.x - 3, a - 2, 6, 4);
        g.fillRect(el.x - 3, b - 2, 6, 4);
      });
      g.restore();
    },
  };
}

function PanelD({ vals, errs, pl, pr, pt, pb, max, tick2 }: any) {
  const L = pl - 62, T = 1730, W = pr - L + 18, H = 2061 - T;
  return <Cv x={L} y={T} w={W} h={H} make={(c: HTMLCanvasElement) => new Chart(c, {
    type: 'bar',
    data: {
      labels: dLabels,
      datasets: [{
        label: 'FPKM', data: vals, barThickness: 20,
        backgroundColor: ['#8f8f8f', '#060606', '#8f8f8f', '#060606', '#8f8f8f', '#060606'],
      }],
    },
    options: {
      animation: false, responsive: false,
      layout: { autoPadding: false, padding: { top: pt - T, right: L + W - pr, left: 0, bottom: 0 } },
      plugins: { legend: { display: false }, tooltip: { enabled: false } },
      scales: {
        x: {
          afterFit: (s: any) => { s.height = T + H - pb; },
          grid: { drawOnChartArea: false, color: '#999', tickLength: 8, lineWidth: 2 },
          border: { color: '#000', width: 4 },
          ticks: { autoSkip: false, maxRotation: 0, padding: 29, color: '#0a0a0a', font: { family: FONT, weight: 'bold', size: 20 } },
        },
        y: {
          min: 0, max,
          afterFit: (s: any) => { s.width = pl - L; },
          grid: { drawOnChartArea: false, drawTicks: !!tick2, color: '#999', tickLength: 4, lineWidth: 2 },
          border: { color: '#000', width: 4 },
          ticks: { stepSize: 10, autoSkip: false, padding: 5, labelOffset: 5, color: '#0a0a0a', font: { family: FONT, weight: 'bold', size: 32 }, callback: (v: any) => (!tick2 || v % 20 === 0 ? v : '') },
        },
      },
    },
    plugins: [errorPlugin(errs)],
  })} />;
}

function Txt({ row }: any) {
  const [t, x, y, s, o = {}] = row;
  const parts: Part[] = typeof t === 'string' ? [{ t, i: o.it }] : t;
  return (
    <text x={x} y={y} fontSize={s} fontWeight="bold" fontFamily={FONT} fill="#0a0a0a"
      textAnchor={o.rot ? 'middle' : 'start'}
      textLength={o.len} lengthAdjust={o.len ? 'spacingAndGlyphs' : undefined}
      transform={o.rot ? `rotate(-90 ${x} ${y})` : undefined}>
      {parts.map((p, i) => <tspan key={i} fontStyle={p.i ? 'italic' : 'normal'} fontWeight={p.thin ? 'normal' : 'bold'}>{p.t}</tspan>)}
    </text>
  );
}

function Arrow({ pts, dir }: any) {
  const [ex, ey] = pts[pts.length - 1];
  const head = dir < 0 ? `${ex - 7},${ey} ${ex},${ey - 5} ${ex},${ey + 5}` : `${ex + 7},${ey} ${ex},${ey - 5} ${ex},${ey + 5}`;
  return <g><polyline points={pts.map((q: number[]) => q.join(',')).join(' ')} fill="none" stroke="#0a0a0a" strokeWidth={3.5} /><polygon points={head} fill="#0a0a0a" /></g>;
}

function Marks({ xs, y, dir, r = 2 }: any) {
  return <g>{xs.map((x: number) => <polyline key={x} points={`${x + dir * r},${y - r} ${x},${y} ${x + dir * r},${y + r}`} fill="none" stroke="#b9b9e8" strokeWidth={1} />)}</g>;
}

const svgStyle = (z: number): React.CSSProperties => ({ position: 'absolute', left: 0, top: 0, zIndex: z, pointerEvents: 'none' });

export default function App() {
  const geneB = panels[3];
  const geneC = panels[7];
  const framed = panels.filter((p) => !p.bare);
  return (
    <div style={{ position: 'absolute', left: 0, top: 0, width: 1946, height: 2061, overflow: 'hidden', background: '#fff' }}>
      <svg width={1946} height={2061} style={svgStyle(0)}>
        {framed.map((p, i) => {
          const x = p.ox + p.x0 / p.kx, r = p.ox + p.x1 / p.kx, t = p.oy + p.top / p.ky, b = p.oy + p.bases[p.bases.length - 1] / p.ky;
          return <g key={i}>
            <rect x={x} y={t} width={r - x} height={b - t} fill="#fbfbf8" />
            {p.band && <rect x={p.ox + p.band[0] / p.kx} y={t} width={(p.band[1] - p.band[0]) / p.kx} height={b - t} fill="#d6d7da" />}
          </g>;
        })}
      </svg>

      <PanelA />
      {panels.map((p, pi) => p.tracks.map((_: any, i: number) => <Track key={pi + '-' + i} p={p} i={i} />))}

      <Gene p={geneB} zy0={1300} zy1={1312} exons={qrfExons} intron={[905, 1268]} />
      <Gene p={geneB} zy0={1327} zy1={1338} exons={frqMiniExons} intron={[832, 838]} />
      <Gene p={geneB} zy0={1337} zy1={1350} exons={frqExons} intron={[1015, 1052]} />
      <Gene p={geneC} zy0={1282} zy1={1306} exons={ncu02913Exons} intron={[555, 955]} />
      <Gene p={geneC} zy0={1282} zy1={1306} exons={ncu16472Exons} intron={[1018, 1398]} />

      <PanelD vals={ncu02913Values} errs={ncu02913Errors} pl={1180} pr={1468} pt={1760} pb={2005} max={50} />
      <PanelD vals={ncu16472Values} errs={ncu16472Errors} pl={1612} pr={1902} pt={1758} pb={2003} max={70} tick2 />

      <svg width={1946} height={2061} style={svgStyle(2)}>
        {/* legend of panel a */}
        {[[114, '#f9dc14'], [170, '#0aa5d3'], [226, '#9a9a9a']].map(([y, col]: any) => (
          <g key={y}>
            <rect x={1241} y={y} width={35} height={34} fill={col} stroke="#555" strokeWidth={1.5} />
            <rect x={1241} y={y} width={35} height={4} fill="#111" />
            <rect x={1241} y={y + 30} width={35} height={4} fill="#111" />
          </g>
        ))}
        {/* track frames and row lines */}
        {framed.map((p, i) => {
          const x = p.ox + p.x0 / p.kx, r = p.ox + p.x1 / p.kx, t = p.oy + p.top / p.ky, b = p.oy + p.bases[p.bases.length - 1] / p.ky;
          return <g key={i}>
            {p.bases.slice(0, -1).map((z: number) => <line key={z} x1={x} x2={r} y1={p.oy + z / p.ky} y2={p.oy + z / p.ky} stroke="#c4c4d6" strokeWidth={1.5} />)}
            <rect x={x} y={t} width={r - x} height={b - t} fill="none" stroke="#151515" strokeWidth={2.5} />
            {p.thickTop && <line x1={x} x2={r} y1={t} y2={t} stroke="#151515" strokeWidth={4} />}
          </g>;
        })}
        {/* gene boxes */}
        <rect x={337} y={1782} width={514} height={90.5} fill="none" stroke="#151515" strokeWidth={2.5} />
        <rect x={1343} y={1550} width={509} height={74} fill="none" stroke="#151515" strokeWidth={2.5} />
        <Marks xs={qrfMarks} y={1810} dir={1} />
        <Marks xs={frqMiniMarks} y={1821.5} dir={1} />
        <Marks xs={frqMarks} y={1827} dir={-1} />
        <Marks xs={ncu02913Marks} y={1577.5} dir={1} r={3} />
        <Marks xs={ncu16472Marks} y={1577.5} dir={-1} r={3} />
        <Arrow pts={[[816, 1806], [816, 1796], [806, 1796]]} dir={-1} />
        <Arrow pts={[[568, 1826], [568, 1837], [559, 1837]]} dir={-1} />
        <Arrow pts={[[589, 1830], [589, 1840], [598, 1840]]} dir={1} />
        <Arrow pts={[[1584, 1588], [1584, 1602], [1576, 1602]]} dir={-1} />
        <Arrow pts={[[1621, 1588], [1621, 1602], [1628, 1602]]} dir={1} />
        {/* scale bars */}
        {[[340, 498, 704, 851, 1906.5, 1892, 1922], [1344, 1518, 1683, 1853, 1655, 1640, 1670]].map(([a, b, c2, e, y, t1, t2]: number[], i: number) => (
          <g key={i} stroke="#0a0a0a">
            <line x1={a} x2={b} y1={y} y2={y} strokeWidth={8} />
            <line x1={c2} x2={e} y1={y} y2={y} strokeWidth={8} />
            <line x1={a} x2={a} y1={t1} y2={t2} strokeWidth={6} />
            <line x1={e} x2={e} y1={t1} y2={t2} strokeWidth={6} />
          </g>
        ))}
        {/* vertical rules */}
        {rules.map(([x, a, b, w, dash]: number[], i: number) => <line key={i} x1={x} x2={x} y1={a} y2={b} stroke="#0a0a0a" strokeWidth={w} strokeDasharray={dash ? '9 5' : undefined} />)}
        {/* frames of the two bar charts */}
        <path d="M1180 2005V1760H1468V2005" fill="none" stroke="#0a0a0a" strokeWidth={4} />
        <path d="M1612 2003V1758H1902V2003" fill="none" stroke="#0a0a0a" strokeWidth={4} />
        {[[1186, 1267, 2038], [1287, 1367, 2038], [1386, 1468, 2038], [1620, 1701, 2036], [1726, 1807, 2036], [1826, 1908, 2036]].map(([a, b, y]: number[], i: number) => (
          <line key={i} x1={a} x2={b} y1={y} y2={y} stroke="#0a0a0a" strokeWidth={2} />
        ))}
        {/* texts */}
        {texts.map((row, i) => <Txt key={i} row={row} />)}
        {sideRows.map(([x, ys], i) => ys.map((y, j) => (
          <Txt key={i + '_' + j} row={[j % 2 === 0 ? 'DD' : 'LP30', x, y, 33]} />
        )))}
      </svg>
    </div>
  );
}
